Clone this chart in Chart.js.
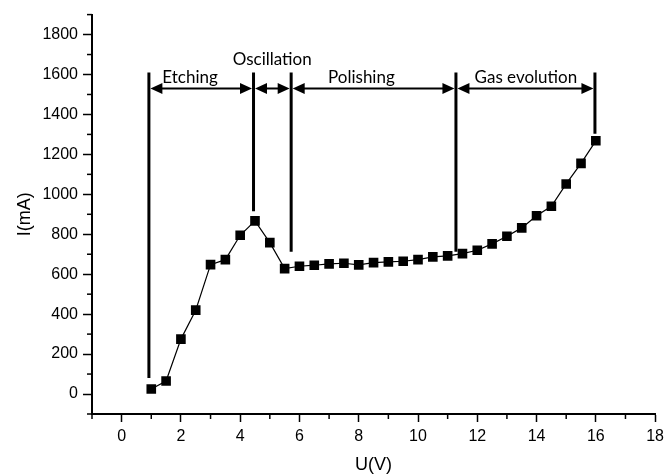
<!DOCTYPE html>
<html>
<head>
<meta charset="utf-8">
<script src="https://cdn.jsdelivr.net/npm/chart.js@4/dist/chart.umd.min.js"></script>
<style>
  html, body { margin: 0; padding: 0; background: #fff; }
  #wrap { width: 669px; height: 476px; }
</style>
</head>
<body>
<div id="wrap"><canvas id="ivChart" width="669" height="476"></canvas></div>
<script>
// I-U curve
const voltage = [1, 1.5, 2, 2.5, 3, 3.5, 4, 4.5, 5, 5.5, 6, 6.5, 7, 7.5, 8, 8.5, 9, 9.5, 10, 10.5,
                 11, 11.5, 12, 12.5, 13, 13.5, 14, 14.5, 15, 15.5, 16];
const current = [25, 65, 275, 420, 648, 673, 795, 867, 758, 628, 640, 645, 652, 655, 647, 658, 662, 665, 673, 687,
                 692, 703, 720, 752, 790, 832, 893, 940, 1052, 1155, 1268];

// phase boundaries (U in V, I in mA)
const phaseNames = ['Etching', 'Oscillation', 'Polishing', 'Gas evolution'];
const boundaryU = [0.92, 4.45, 5.72, 11.28, 15.97];
const boundaryFoot = [80, 915, 712, 712, 1303];
const boundaryTop = 1610;
const arrowLevel = 1530;
const labelU = [2.31, 5.08, 8.09, 13.64];
const labelLevel = [1557, 1650, 1557, 1557];

// axis ticks
const xTicks = [0, 2, 4, 6, 8, 10, 12, 14, 16, 18];
const xMinor = [-1, 1, 3, 5, 7, 9, 11, 13, 15, 17];
const yTicks = [0, 200, 400, 600, 800, 1000, 1200, 1400, 1600, 1800];
const yMinor = [-100, 100, 300, 500, 700, 900, 1100, 1300, 1500, 1700, 1900];

const axisFont = '"Liberation Sans", Arial, sans-serif';

function arrowHead(ctx, tipX, tipY, dir) {
    ctx.beginPath();
    ctx.moveTo(tipX, tipY);
    ctx.lineTo(tipX + dir * 12, tipY - 5.5);
    ctx.lineTo(tipX + dir * 12, tipY + 5.5);
    ctx.closePath();
    ctx.fill();
}

const phasePlugin = {
    id: 'phases',
    afterDraw(chart) {
        const { ctx, chartArea } = chart;
        const x = chart.scales.x, y = chart.scales.y;
        ctx.save();
        ctx.fillStyle = '#000';
        ctx.strokeStyle = '#000';

        // arrows + labels
        const ay = y.getPixelForValue(arrowLevel);
        ctx.lineWidth = 2;
        for (let i = 0; i < phaseNames.length; i++) {
            const a = x.getPixelForValue(boundaryU[i]) + 1.5;
            const b = x.getPixelForValue(boundaryU[i + 1]) - 1.5;
            ctx.beginPath();
            ctx.moveTo(a + 10, ay);
            ctx.lineTo(b - 10, ay);
            ctx.stroke();
            arrowHead(ctx, a, ay, 1);
            arrowHead(ctx, b, ay, -1);
            ctx.font = '17px Lato';
            ctx.textAlign = 'center';
            ctx.textBaseline = 'alphabetic';
            ctx.fillText(phaseNames[i], x.getPixelForValue(labelU[i]), y.getPixelForValue(labelLevel[i]));
        }

        // minor ticks
        ctx.lineWidth = 1.5;
        xMinor.forEach(v => {
            const px = x.getPixelForValue(v);
            ctx.beginPath();
            ctx.moveTo(px, chartArea.bottom);
            ctx.lineTo(px, chartArea.bottom + 5);
            ctx.stroke();
        });
        yMinor.forEach(v => {
            const py = y.getPixelForValue(v);
            ctx.beginPath();
            ctx.moveTo(chartArea.left - 5, py);
            ctx.lineTo(chartArea.left, py);
            ctx.stroke();
        });
        ctx.restore();
    }
};

const points = voltage.map((u, i) => ({ x: u, y: current[i] }));
const boundaries = boundaryU.map((u, i) => ({
    data: [{ x: u, y: boundaryFoot[i] }, { x: u, y: boundaryTop }],
    showLine: true,
    borderColor: '#000',
    borderWidth: 3,
    pointRadius: 0
}));

new Chart(document.getElementById('ivChart'), {
    type: 'scatter',
    data: {
        datasets: [{
            data: points,
            showLine: true,
            borderColor: '#000',
            borderWidth: 1.2,
            pointStyle: 'rect',
            pointRadius: 6.8,
            pointBackgroundColor: '#000',
            pointBorderWidth: 0
        }, ...boundaries]
    },
    options: {
        responsive: false,
        animation: false,
        events: [],
        layout: { padding: { top: 13, right: 11, left: 0, bottom: 0 } },
        plugins: { legend: { display: false }, tooltip: { enabled: false } },
        scales: {
            x: {
                type: 'linear',
                min: -1,
                max: 18,
                afterBuildTicks: s => { s.ticks = xTicks.map(v => ({ value: v })); },
                afterFit: s => { s.height = 62; },
                border: { color: '#000', width: 2 },
                grid: { drawOnChartArea: false, tickLength: 8, tickColor: '#000', tickWidth: 1.5 },
                ticks: {
                    color: '#000', padding: 5, maxRotation: 0, autoSkip: false,
                    font: { family: axisFont, size: 16 },
                    callback: v => String(v)
                },
                title: {
                    display: true, text: 'U(V)', color: '#000',
                    font: { family: axisFont, size: 18 },
                    padding: { top: 0, bottom: 0 }
                }
            },
            y: {
                type: 'linear',
                min: -100,
                max: 1900,
                afterBuildTicks: s => { s.ticks = yTicks.map(v => ({ value: v })); },
                afterFit: s => { s.width = 92; },
                border: { color: '#000', width: 2 },
                grid: { drawOnChartArea: false, tickLength: 9, tickColor: '#000', tickWidth: 1.5 },
                ticks: {
                    color: '#000', padding: 5, autoSkip: false,
                    font: { family: axisFont, size: 16 },
                    callback: v => String(v)
                },
                title: {
                    display: true, text: 'I(mA)', color: '#000',
                    font: { family: axisFont, size: 18 },
                    padding: { top: 14, bottom: 0 }
                }
            }
        }
    },
    plugins: [phasePlugin]
});
</script>
</body>
</html>
